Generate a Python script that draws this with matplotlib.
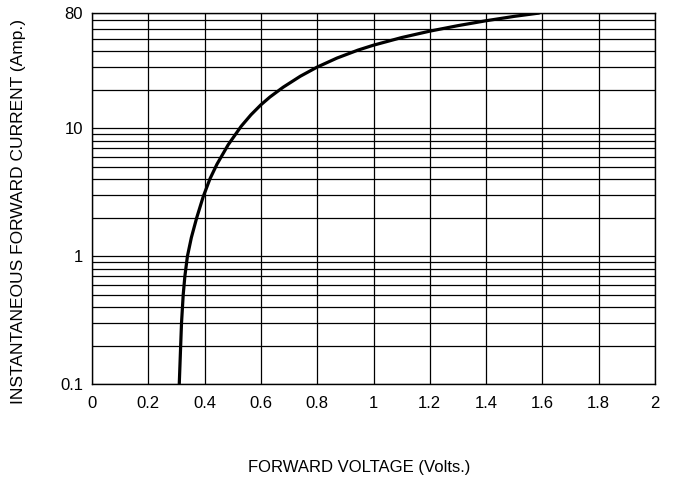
#!/usr/bin/env python3
"""Forward voltage vs instantaneous forward current (log scale)."""
import matplotlib

matplotlib.use("Agg")
import matplotlib.pyplot as plt
from matplotlib.ticker import FixedLocator, FixedFormatter, NullFormatter

# values
volts = [0.310, 0.315, 0.318, 0.324, 0.330, 0.339, 0.353, 0.372, 0.395, 0.419,
         0.444, 0.484, 0.53, 0.565, 0.60, 0.632, 0.679, 0.74, 0.80, 0.87,
         0.945, 1.0, 1.1, 1.2, 1.3, 1.4, 1.5, 1.59]
amps = [0.1, 0.2, 0.3, 0.5, 0.7, 1.0, 1.4, 2.0, 2.92, 4.03,
        5.25, 7.46, 10.4, 12.8, 15.3, 17.6, 21.0, 25.6, 30.2, 35.5,
        41.0, 44.8, 51.4, 57.7, 63.7, 69.6, 75.3, 80.0]

x_ticks = [0, 0.2, 0.4, 0.6, 0.8, 1.0, 1.2, 1.4, 1.6, 1.8, 2.0]
x_labels = ["0", "0.2", "0.4", "0.6", "0.8", "1", "1.2", "1.4", "1.6", "1.8", "2"]
y_ticks = [0.1, 1, 10, 80]
y_labels = ["0.1", "1", "10", "80"]
y_grid = [0.2, 0.3, 0.4, 0.5, 0.6, 0.7, 0.8, 0.9,
          2, 3, 4, 5, 6, 7, 8, 9,
          20, 30, 40, 50, 60, 70]

plt.rcParams["font.family"] = ["Liberation Sans", "DejaVu Sans"]

fig = plt.figure(figsize=(6.74, 4.83), dpi=100)
ax = fig.add_axes([92 / 674, 1 - 384 / 483, 563 / 674, 371 / 483])

ax.plot(volts, amps, color="black", lw=2.3, solid_capstyle="butt",
        solid_joinstyle="round")

ax.set_yscale("log")
ax.set_xlim(0, 2)
ax.set_ylim(0.1, 80)

ax.xaxis.set_major_locator(FixedLocator(x_ticks))
ax.xaxis.set_major_formatter(FixedFormatter(x_labels))
ax.yaxis.set_major_locator(FixedLocator(y_ticks))
ax.yaxis.set_major_formatter(FixedFormatter(y_labels))
ax.yaxis.set_minor_locator(FixedLocator(y_grid))
ax.yaxis.set_minor_formatter(NullFormatter())

ax.grid(True, which="both", color="black", lw=0.9)
ax.tick_params(which="both", length=0)
ax.tick_params(axis="x", labelsize=12, pad=9)
ax.tick_params(axis="y", labelsize=12, pad=6.5)
for s in ax.spines.values():
    s.set_color("black")
    s.set_linewidth(1.0)

ax.set_xlabel("FORWARD VOLTAGE (Volts.)", fontsize=12, va="center")
ax.xaxis.set_label_coords(0.474, -0.224)
ax.set_ylabel("INSTANTANEOUS FORWARD CURRENT (Amp.)", fontsize=12.5, va="center")
ax.yaxis.set_label_coords(-0.1314, 0.466)

fig.savefig("out.png", dpi=100)
